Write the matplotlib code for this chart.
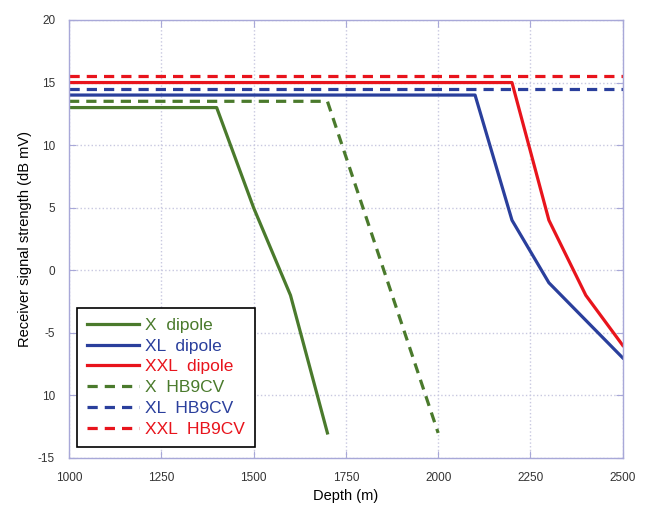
import matplotlib
matplotlib.use("Agg")
import matplotlib.pyplot as plt

plt.rcParams['font.family'] = ['Liberation Sans', 'DejaVu Sans']

# --- data ---
x_dipole_depth = [1000, 1400, 1500, 1600, 1700]
x_dipole_sig = [13, 13, 5, -2, -13]

xl_dipole_depth = [1000, 2100, 2200, 2300, 2500]
xl_dipole_sig = [14, 14, 4, -1, -7]

xxl_dipole_depth = [1000, 2200, 2300, 2400, 2500]
xxl_dipole_sig = [15, 15, 4, -2, -6]

x_hb9cv_depth = [1000, 1700, 2000]
x_hb9cv_sig = [13.5, 13.5, -13]

xl_hb9cv_depth = [1000, 2500]
xl_hb9cv_sig = [14.5, 14.5]

xxl_hb9cv_depth = [1000, 2500]
xxl_hb9cv_sig = [15.5, 15.5]

x_ticks = [1000, 1250, 1500, 1750, 2000, 2250, 2500]
y_ticks = [-15, -10, -5, 0, 5, 10, 15, 20]
y_tick_labels = ['-15', '10', '-5', '0', '5', '10', '15', '20']

GREEN = '#4a7a2c'
BLUE = '#2a3f9c'
RED = '#e8141c'
FRAME = '#a8a8d8'

fig = plt.figure(figsize=(6.48, 5.12), dpi=100)
ax = fig.add_axes([0.1065, 0.1055, 0.8545, 0.8555])

lw = 2.3
dash = (0, (3.2, 2.2))
ax.plot(x_dipole_depth, x_dipole_sig, color=GREEN, lw=lw, label='X  dipole')
ax.plot(xl_dipole_depth, xl_dipole_sig, color=BLUE, lw=lw, label='XL  dipole')
ax.plot(xxl_dipole_depth, xxl_dipole_sig, color=RED, lw=lw, label='XXL  dipole')
ax.plot(x_hb9cv_depth, x_hb9cv_sig, color=GREEN, lw=lw, ls=dash, label='X  HB9CV')
ax.plot(xl_hb9cv_depth, xl_hb9cv_sig, color=BLUE, lw=lw, ls=dash, label='XL  HB9CV')
ax.plot(xxl_hb9cv_depth, xxl_hb9cv_sig, color=RED, lw=lw, ls=dash, label='XXL  HB9CV')

ax.set_xlim(1000, 2500)
ax.set_ylim(-15, 20)
ax.set_xticks(x_ticks)
ax.set_yticks(y_ticks)
ax.set_yticklabels(y_tick_labels)

ax.grid(True, color='#c8c8e0', ls=':', lw=1.0)
for s in ax.spines.values():
    s.set_color(FRAME)
    s.set_linewidth(1.0)
ax.tick_params(direction='in', length=5, color=FRAME, labelsize=8.5,
               top=True, right=True, pad=10, labelcolor='#333333')

ax.set_xlabel('Depth (m)', fontsize=10.5)
ax.set_ylabel('Receiver signal strength (dB mV)', fontsize=10.5)

leg = ax.legend(loc='lower left', bbox_to_anchor=(0.0144, 0.025), fancybox=False,
                fontsize=12.5, handlelength=3.0, handletextpad=0.3,
                labelspacing=0.32, borderpad=0.6, borderaxespad=0, framealpha=1)
leg.get_frame().set_edgecolor('black')
leg.get_frame().set_linewidth(1.2)
for txt, col in zip(leg.get_texts(), [GREEN, BLUE, RED, GREEN, BLUE, RED]):
    txt.set_color(col)

fig.savefig('out.png', dpi=100)
